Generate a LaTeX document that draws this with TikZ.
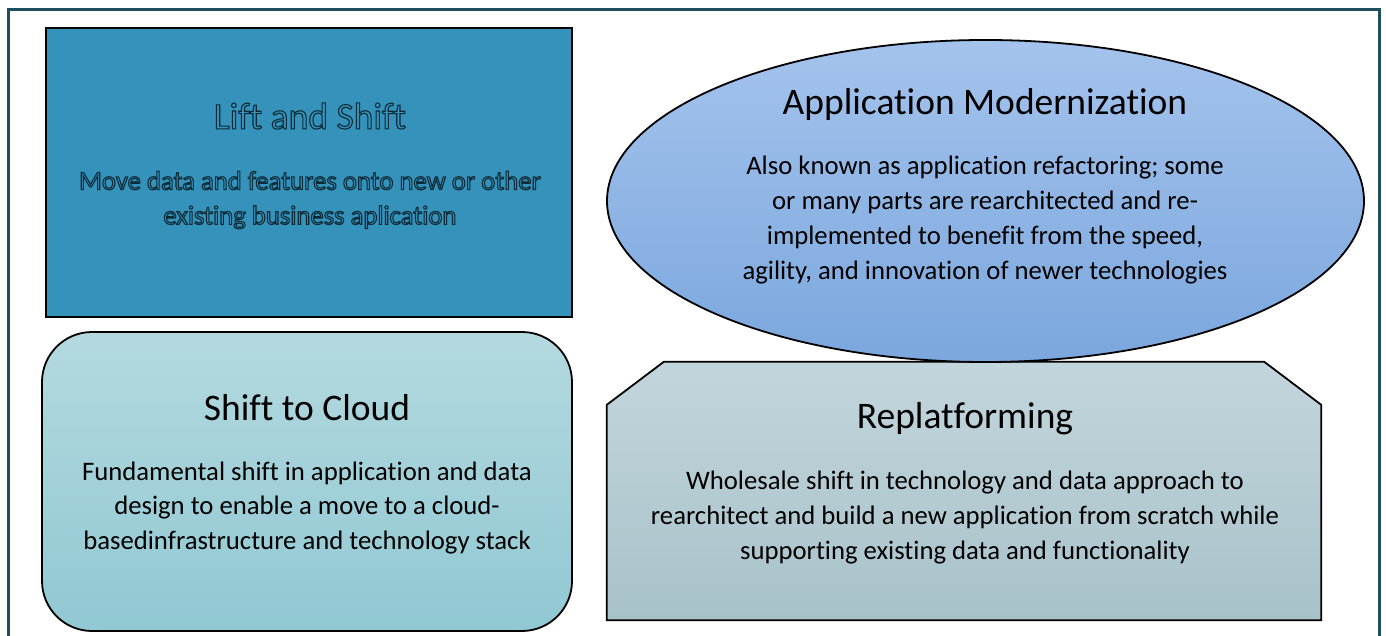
\documentclass[tikz,border=0pt]{standalone}
\usepackage{fontspec}
\setmainfont[Ligatures=NoCommon]{Carlito}
\usetikzlibrary{shapes.geometric,positioning}
\definecolor{framecol}{HTML}{1F4E5F}
\definecolor{liftcol}{HTML}{3593BB}
\definecolor{liftline}{HTML}{0C2A36}
\definecolor{modtop}{HTML}{A4C3EC}
\definecolor{modbot}{HTML}{7BA7DE}
\definecolor{cloudtop}{HTML}{B4D9DF}
\definecolor{cloudbot}{HTML}{90C8D3}
\definecolor{plattop}{HTML}{C3D5DC}
\definecolor{platbot}{HTML}{A8C2CA}
% outlined letters (stroke only)
\newcommand{\outlined}[1]{\special{pdf:literal direct 1 Tr 1.1 w}#1\special{pdf:literal direct 0 Tr}}
\tikzset{
    box/.style={draw=black,line width=1.8pt,inner sep=0pt},
    title text/.style={font=\fontsize{37.5}{44}\selectfont,align=center},
    body text/.style={font=\fontsize{26.7}{34.7}\selectfont,align=center},
}
\begin{document}
\begin{tikzpicture}[x=1pt,y=-1pt]
    \useasboundingbox (0,0) rectangle (1386,636);
    \draw[framecol,line width=3pt] (8,640) -- (8,10) -- (1379,10) -- (1379,640);

    % the four boxes
    \node[box,fill=liftcol,minimum width=526pt,minimum height=289pt] (lift) at (309,172.5) {};
    \node[box,rounded corners=50pt,top color=cloudtop,bottom color=cloudbot,minimum width=530pt,minimum height=299pt] (cloud) at (307,481.5) {};
    \node[inner sep=0pt,minimum width=714pt,minimum height=258pt] (plat) at (964,491) {};
    \draw[box,top color=plattop,bottom color=platbot]
        (plat.south west) -- ([yshift=-43pt]plat.north west) -- ([xshift=57pt]plat.north west)
        -- ([xshift=-57pt]plat.north east) -- ([yshift=-43pt]plat.north east) -- (plat.south east) -- cycle;
    \node[box,ellipse,top color=modtop,bottom color=modbot,minimum width=757pt,minimum height=322pt] (mod) at (985.5,201) {};

    % texts
    \node[title text,text=liftline] (liftTitle) at (310,116) {\outlined{Lift and Shift}};
    \node[body text,text=liftline] (liftBody) at (310,200) {\outlined{Move data and features onto new or other}\\\outlined{existing business aplication}};
    \node[title text] (modTitle) at (985,105) {Application Modernization};
    \node[body text] (modBody) at (985,220) {Also known as application refactoring; some\\or many parts are rearchitected and re-\\implemented to benefit from the speed,\\agility, and innovation of newer technologies};
    \node[title text] (cloudTitle) at (307,408) {Shift to Cloud};
    \node[body text] (cloudBody) at (307,508) {Fundamental shift in application and data\\design to enable a move to a cloud-\\basedinfrastructure and technology stack};
    \node[title text] (platTitle) at (965,419) {Replatforming};
    \node[body text] (platBody) at (965,517.5) {Wholesale shift in technology and data approach to\\rearchitect and build a new application from scratch while\\supporting existing data and functionality};
\end{tikzpicture}
\end{document}
